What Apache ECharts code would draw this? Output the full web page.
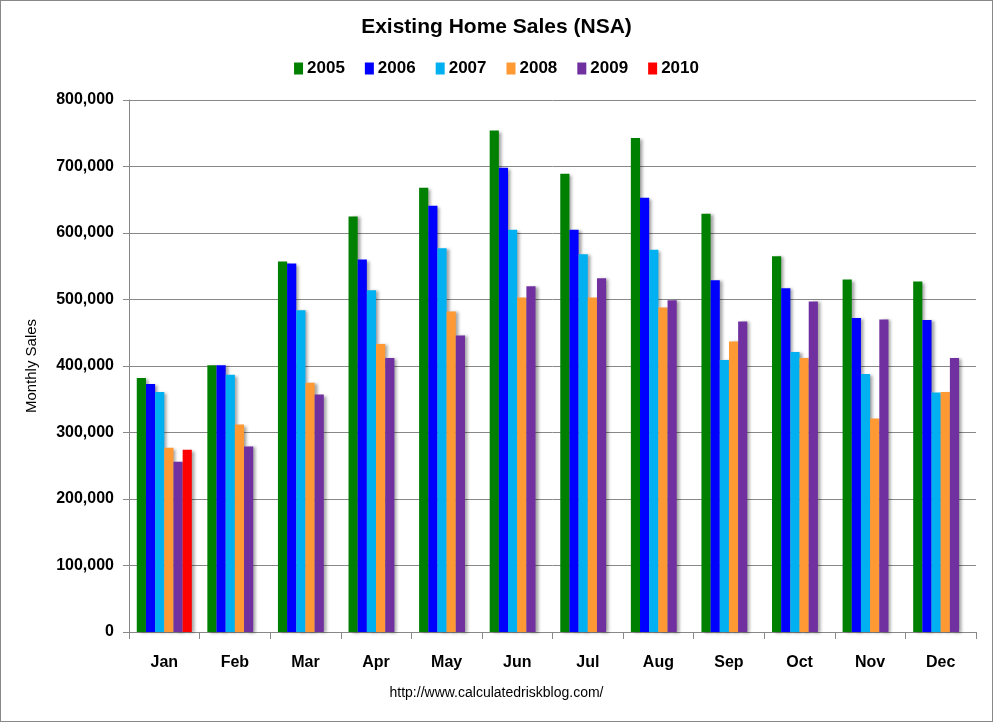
<!DOCTYPE html>
<html><head><meta charset="utf-8">
<script src="https://cdn.jsdelivr.net/npm/echarts@6/dist/echarts.min.js"></script>
<style>html,body{margin:0;padding:0;background:#fff}#c{width:991px;height:720px;border:1px solid #888}</style>
</head><body><div id="c"></div>
<script>
const months = ['Jan','Feb','Mar','Apr','May','Jun','Jul','Aug','Sep','Oct','Nov','Dec'];
const years = ['2005','2006','2007','2008','2009','2010'];
const colors = ['#008000','#0000FF','#00B0F0','#FF9933','#7030A0','#FF0000'];
const s2005 = [382000,401000,557000,625000,668000,754000,689000,743000,629000,565000,530000,527000];
const s2006 = [373000,401000,554000,560000,641000,698000,605000,653000,529000,517000,472000,469000];
const s2007 = [361000,387000,484000,514000,577000,605000,568000,575000,409000,421000,388000,360000];
const s2008 = [277000,312000,375000,433000,482000,503000,503000,488000,437000,412000,321000,361000];
const s2009 = [256000,279000,357000,412000,446000,520000,532000,499000,467000,497000,470000,412000];
const s2010 = [274000,null,null,null,null,null,null,null,null,null,null,null];
const seriesData = [s2005,s2006,s2007,s2008,s2009,s2010];
const yTicks = [0,100000,200000,300000,400000,500000,600000,700000,800000];

const font = '"Liberation Sans Narrow","Liberation Sans",Arial,sans-serif';
const chart = echarts.init(document.getElementById('c'));
chart.setOption({
  animation:false,
  title:{text:'Existing Home Sales (NSA)',left:'center',top:11,textStyle:{fontFamily:font,fontWeight:'bold',fontSize:21,color:'#000'}},
  legend:{top:54,left:'center',itemWidth:9,itemHeight:12,itemGap:20,icon:'rect',
    textStyle:{fontFamily:font,fontWeight:'bold',fontSize:17,color:'#000',padding:[0,0,0,-1]},data:years},
  grid:{left:128,right:16,top:99,bottom:89},
  xAxis:{type:'category',data:months,
    axisLine:{lineStyle:{color:'#888'}},
    axisTick:{show:true,length:7,lineStyle:{color:'#888'},alignWithLabel:false},
    axisLabel:{fontFamily:font,fontWeight:'bold',fontSize:16,color:'#000',margin:23}},
  yAxis:{type:'value',min:0,max:800000,interval:100000,
    name:'Monthly Sales',nameLocation:'middle',nameGap:90,nameRotate:90,
    nameTextStyle:{fontFamily:font,fontSize:15,color:'#000'},
    axisLine:{show:true,lineStyle:{color:'#888'}},
    axisTick:{show:true,length:6,lineStyle:{color:'#888'}},
    splitLine:{lineStyle:{color:'#888',width:1}},
    axisLabel:{fontFamily:font,fontWeight:'bold',fontSize:16,color:'#000',margin:15,
      formatter:v=>yTicks.includes(v)?v.toLocaleString('en-US'):''}},
  graphic:[{type:'text',left:'center',top:685,style:{text:'http://www.calculatedriskblog.com/',fontFamily:font,fontSize:14,fill:'#000'}}],
  series: years.map((y,i)=>({name:y,type:'bar',data:seriesData[i],barGap:'0%',barCategoryGap:'22%',
    itemStyle:{color:colors[i],shadowColor:'rgba(0,0,0,0.35)',shadowBlur:3,shadowOffsetX:3,shadowOffsetY:1}}))
});
</script></body></html>
